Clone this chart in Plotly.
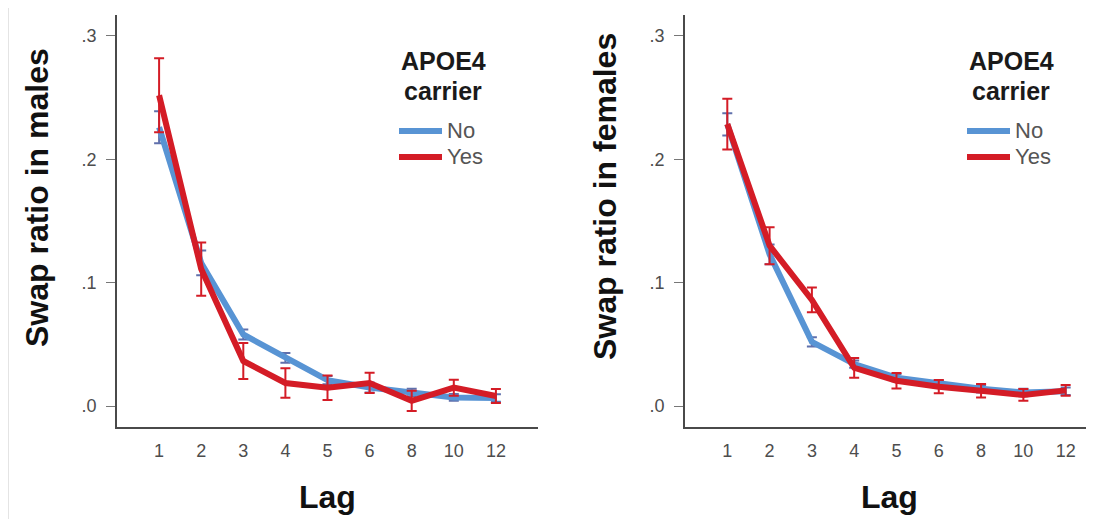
import plotly.graph_objects as go

lags = ["1", "2", "3", "4", "5", "6", "8", "10", "12"]

males_no = [0.226, 0.116, 0.058, 0.039, 0.021, 0.015, 0.011, 0.007, 0.0065]
males_no_err = [0.013, 0.010, 0.004, 0.004, 0.0034, 0.004, 0.003, 0.0027, 0.003]
males_yes = [0.252, 0.111, 0.0365, 0.0187, 0.0148, 0.0187, 0.0042, 0.0149, 0.0081]
males_yes_err = [0.030, 0.0216, 0.0145, 0.012, 0.0099, 0.0082, 0.0082, 0.0065, 0.0057]

females_no = [0.2283, 0.123, 0.052, 0.034, 0.023, 0.018, 0.014, 0.011, 0.012]
females_no_err = [0.009, 0.008, 0.0037, 0.003, 0.003, 0.003, 0.003, 0.003, 0.003]
females_yes = [0.2286, 0.130, 0.086, 0.031, 0.0205, 0.0157, 0.0124, 0.009, 0.0127]
females_yes_err = [0.0206, 0.015, 0.010, 0.008, 0.0063, 0.0054, 0.0054, 0.0048, 0.0043]

legend_title = ["APOE4", "carrier"]
legend_names = ["No", "Yes"]

W, H = 1094, 519
OFF = 8  # page body margin offset


def px(x):
    return (x - OFF) / W


def py(y):
    return 1 - (y - OFF) / H


BLUE = "rgb(88,148,212)"
BLUE_ERR = "rgb(96,112,172)"
RED = "rgb(212,28,38)"
FONT = "Liberation Sans, Arial, sans-serif"

fig = go.Figure()


def add_series(x_axis, y_axis, name, vals, errs, color, ecolor):
    fig.add_trace(go.Scatter(
        x=lags, y=vals, name=name, mode="lines", showlegend=False,
        line=dict(color=color, width=6),
        error_y=dict(type="data", array=errs, visible=True, color=ecolor,
                     thickness=2, width=5),
        xaxis=x_axis, yaxis=y_axis,
    ))


add_series("x", "y", legend_names[0], males_no, males_no_err, BLUE, BLUE_ERR)
add_series("x", "y", legend_names[1], males_yes, males_yes_err, RED, RED)
add_series("x2", "y2", legend_names[0], females_no, females_no_err, BLUE, BLUE_ERR)
add_series("x2", "y2", legend_names[1], females_yes, females_yes_err, RED, RED)

ydom = [py(427), py(15)]
yrange = [-0.017, 0.317]
tick_font = dict(family=FONT, size=18, color="#4d4d4d")

xcommon = dict(type="category", categoryorder="array", categoryarray=lags,
               showline=True, linecolor="#4a4a4a", linewidth=2,
               ticks="", showgrid=False, zeroline=False,
               tickfont=tick_font, ticklabelstandoff=6)
ycommon = dict(range=yrange, tickvals=[0, 0.1, 0.2, 0.3],
               ticktext=[".0", ".1", ".2", ".3"],
               showline=True, linecolor="#4a4a4a", linewidth=2,
               ticks="outside", ticklen=9, tickcolor="#777777", tickwidth=1,
               showgrid=False, zeroline=False, tickfont=tick_font,
               ticklabelstandoff=6)

fig.update_layout(
    width=W, height=H,
    margin=dict(l=0, r=0, t=0, b=0),
    paper_bgcolor="white", plot_bgcolor="white",
    font=dict(family=FONT),
    showlegend=False,
    xaxis=dict(domain=[px(117), px(538)], range=[-1, 9], anchor="y", **xcommon),
    yaxis=dict(domain=ydom, anchor="x", **ycommon),
    xaxis2=dict(domain=[px(685), px(1094)], range=[-1, 8.67], anchor="y2", **xcommon),
    yaxis2=dict(domain=ydom, anchor="x2", **ycommon),
)

title_font = dict(family=FONT, size=32, color="#111111")
annotations = [
    dict(text="<b>Swap ratio in males</b>", x=px(37), y=py(198), textangle=-90),
    dict(text="<b>Swap ratio in females</b>", x=px(605), y=py(197), textangle=-90),
    dict(text="<b>Lag</b>", x=px((117 + 538) / 2), y=py(497)),
    dict(text="<b>Lag</b>", x=px((685 + 1094) / 2), y=py(497)),
]
for a in annotations:
    fig.add_annotation(xref="paper", yref="paper", showarrow=False,
                       xanchor="center", yanchor="middle", font=title_font, **a)

# Hand-drawn legends (one per panel)
leg_title_font = dict(family=FONT, size=25, color="#1a1a1a")
leg_item_font = dict(family=FONT, size=22, color="#555555")
for dx in (0, 568):
    for txt, yy in zip(legend_title, (61, 91)):
        fig.add_annotation(xref="paper", yref="paper", showarrow=False,
                           x=px(443 + dx), y=py(yy), xanchor="center",
                           yanchor="middle", text="<b>%s</b>" % txt,
                           font=leg_title_font)
    for name, col, yy in zip(legend_names, (BLUE, RED), (131, 157)):
        fig.add_shape(type="line", xref="paper", yref="paper",
                      x0=px(399 + dx), x1=px(442 + dx), y0=py(yy), y1=py(yy),
                      line=dict(color=col, width=6))
        fig.add_annotation(xref="paper", yref="paper", showarrow=False,
                           x=px(445 + dx), y=py(yy), xanchor="left",
                           yanchor="middle", text=name, font=leg_item_font)

fig.add_shape(type="line", xref="paper", yref="paper",
              x0=0.5 / W, x1=0.5 / W, y0=0, y1=1,
              line=dict(color="#e4e4e4", width=1))

fig.write_html("out.html")
